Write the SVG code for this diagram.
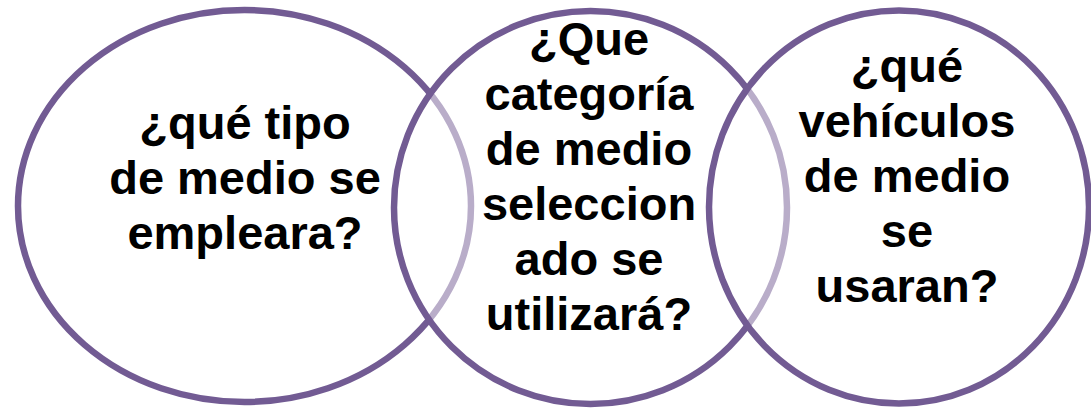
<svg xmlns="http://www.w3.org/2000/svg" width="1091" height="409" viewBox="0 0 1091 409">
<style>
.c{fill:#ffffff;fill-opacity:0.5;stroke:#725B93;stroke-width:6.5}
.t{font-family:"Liberation Sans",Arial,sans-serif;font-weight:bold;font-size:47px;fill:#000000;text-anchor:middle}
</style>
<rect x="0" y="0" width="1091" height="409" fill="#ffffff"/>
<g id="connectors"></g>
<g id="node-left">
<ellipse class="c" cx="244.5" cy="206" rx="226.5" ry="196"/>
</g>
<g id="node-middle">
<ellipse class="c" cx="590.5" cy="207.5" rx="196.5" ry="196.5"/>
</g>
<g id="node-right">
<ellipse class="c" cx="899" cy="207" rx="190" ry="196.5"/>
</g>
<g id="labels">
<text class="t" x="245" y="139">¿qué tipo</text>
<text class="t" x="245" y="194">de medio se</text>
<text class="t" x="245" y="249">empleara?</text>
<text class="t" x="589" y="55">¿Que</text>
<text class="t" x="589" y="110">categoría</text>
<text class="t" x="589" y="165">de medio</text>
<text class="t" x="589" y="220">seleccion</text>
<text class="t" x="589" y="275">ado se</text>
<text class="t" x="589" y="330">utilizará?</text>
<text class="t" x="907" y="82">¿qué</text>
<text class="t" x="907" y="137">vehículos</text>
<text class="t" x="907" y="192">de medio</text>
<text class="t" x="907" y="247">se</text>
<text class="t" x="907" y="302">usaran?</text>
</g>
</svg>
